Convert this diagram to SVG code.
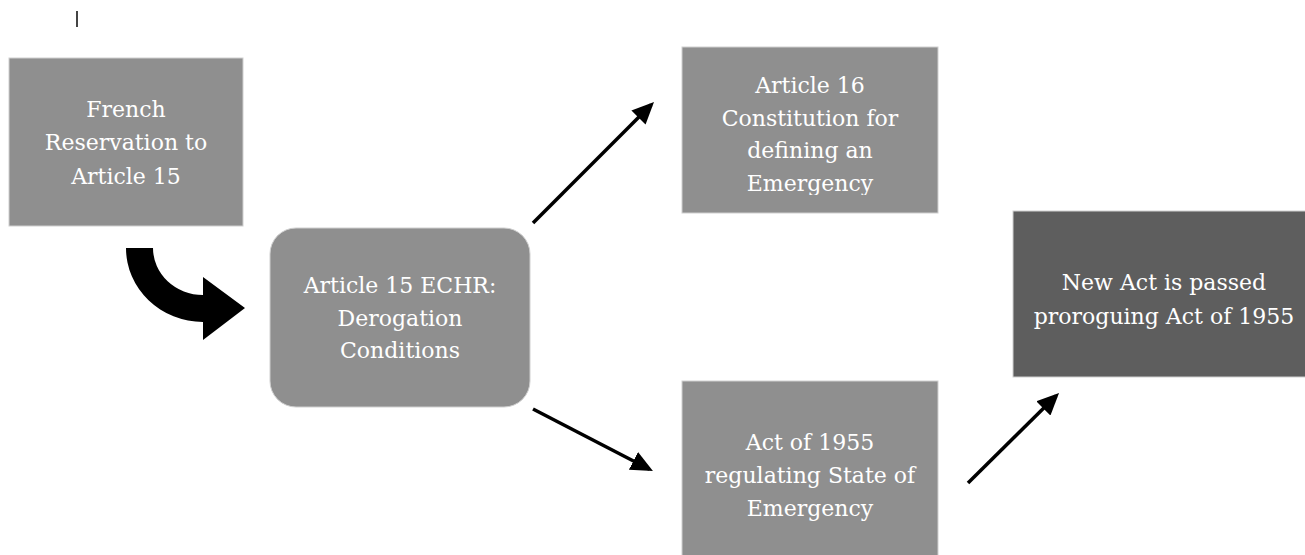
<svg xmlns="http://www.w3.org/2000/svg" width="1305" height="555" viewBox="0 0 1305 555">
  <style>
    .box { fill: #8f8f8f; stroke: #cfcfcf; stroke-width: 1; }
    .dark { fill: #5e5e5e; stroke: #cfcfcf; stroke-width: 1; }
    .lbl { font-family: "DejaVu Serif", "Liberation Serif", serif; font-size: 22px; fill: #ffffff; text-anchor: middle; }
    .conn { stroke: #000000; stroke-width: 3.5; fill: none; marker-end: url(#head); }
  </style>
  <defs>
    <marker id="head" markerUnits="userSpaceOnUse" markerWidth="22" markerHeight="20" refX="18" refY="10" orient="auto">
      <path d="M0,0 L22,10 L0,20 z" fill="#000000"/>
    </marker>
    <clipPath id="clip3">
      <rect x="682" y="47" width="256" height="148"/>
    </clipPath>
  </defs>
  <rect width="1305" height="555" fill="#ffffff"/>

  <line x1="77" y1="11" x2="77" y2="27" stroke="#444444" stroke-width="2"/>

  <g id="french-reservation">
    <rect class="box" x="9" y="58" width="234" height="168"/>
    <text class="lbl"><tspan x="126" y="117">French</tspan><tspan x="126" y="150">Reservation to</tspan><tspan x="126" y="184">Article 15</tspan></text>
  </g>

  <g id="article15">
    <rect class="box" x="270" y="228" width="260" height="179" rx="26" ry="26"/>
    <text class="lbl"><tspan x="400" y="293">Article 15 ECHR:</tspan><tspan x="400" y="326">Derogation</tspan><tspan x="400" y="358">Conditions</tspan></text>
  </g>

  <g id="article16">
    <rect class="box" x="682" y="47" width="256" height="166"/>
    <text class="lbl" clip-path="url(#clip3)"><tspan x="810" y="93">Article 16</tspan><tspan x="810" y="126">Constitution for</tspan><tspan x="810" y="158">defining an</tspan><tspan x="810" y="191">Emergency</tspan></text>
  </g>

  <g id="act1955">
    <rect class="box" x="682" y="381" width="256" height="180"/>
    <text class="lbl"><tspan x="810" y="450">Act of 1955</tspan><tspan x="810" y="483">regulating State of</tspan><tspan x="810" y="516">Emergency</tspan></text>
  </g>

  <g id="new-act">
    <rect class="dark" x="1013" y="211" width="304" height="166"/>
    <text class="lbl"><tspan x="1164" y="290">New Act is passed</tspan><tspan x="1164" y="324">proroguing Act of 1955</tspan></text>
  </g>

  <g id="connectors">
    <path d="M126,248 A77,74 0 0 0 203,322 L203,340 L245,308 L203,277 L203,295 A50,47 0 0 1 153,248 Z" fill="#000000"/>
    <line class="conn" x1="533" y1="223" x2="651.2" y2="104.8"/>
    <line class="conn" x1="533" y1="409" x2="649.4" y2="469.2"/>
    <line class="conn" x1="968" y1="483" x2="1056.2" y2="395.8"/>
  </g>
</svg>
